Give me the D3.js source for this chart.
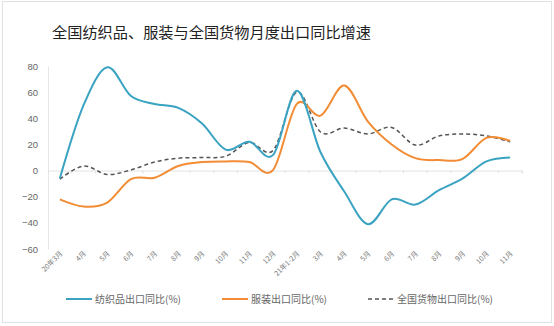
<!DOCTYPE html>
<html><head><meta charset="utf-8">
<script src="https://cdn.jsdelivr.net/npm/d3@7"></script>
<style>body{margin:0;background:#fff;}svg{display:block;font-family:"Noto Sans CJK SC","Noto Sans",sans-serif;}</style>
</head><body>
<svg id="c" width="554" height="326"></svg>
<script>
const title = "全国纺织品、服装与全国货物月度出口同比增速";
const categories = ["20年3月","4月","5月","6月","7月","8月","9月","10月","11月","12月","21年1-2月","3月","4月","5月","6月","7月","8月","9月","10月","11月"];
const textile = [-6,50,79,57,51,48,36,16,22,12,61,14,-16,-41,-22,-26,-15,-6,7,10];
const apparel = [-22,-27.5,-24.5,-6.5,-5.5,3.5,6.5,7,6.5,0.5,51,42,65,37.5,20,9.5,8,9,25,22.7];
const total = [-6.5,3.5,-3,0.5,6.5,9.5,10,11,21.5,15.5,60,29.5,32.5,28,33,19.5,26.5,28,26.5,22];
const yTicks = [80,60,40,20,0,-20,-40,-60];
const seriesNames = ["纺织品出口同比(%)","服装出口同比(%)","全国货物出口同比(%)"];

const svg = d3.select("#c");
svg.append("rect").attr("x",2.5).attr("y",1.5).attr("width",549).attr("height",321)
  .attr("fill","#fff").attr("stroke","#e2e2e2");
svg.append("text").attr("x",52).attr("y",38).attr("font-size",15.2).attr("fill","#222").text(title);

const x = d3.scaleBand().domain(categories.map((d,i)=>i)).range([48,522]);
const y = d3.scaleLinear().domain([-60,80]).range([249,66]);

// y axis
const ya = svg.append("g").attr("transform","translate(48,0)")
  .call(d3.axisLeft(y).tickValues(yTicks).tickSize(0).tickPadding(10));
ya.select(".domain").attr("stroke","#e6e6e6");
ya.selectAll("text").attr("fill","#666").attr("font-size",9.5).attr("font-family","Liberation Sans, Arial, sans-serif");

// zero line with ticks
const xa = svg.append("g").attr("transform",`translate(0,${y(0)})`)
  .call(d3.axisBottom(x).tickSize(3).tickFormat(""));
xa.select(".domain").attr("stroke","#e2e2e2");
xa.selectAll(".tick line").attr("stroke","#e2e2e2").attr("transform",`translate(${x.bandwidth()/2},0)`);

// x labels
svg.append("g").selectAll("text").data(categories).join("text")
  .attr("transform",(d,i)=>`translate(${x(i)+x.bandwidth()/2+3},254) rotate(-45)`)
  .attr("text-anchor","end").attr("font-size",7).attr("fill","#777").text(d=>d);

const line = d3.line().x((d,i)=>x(i)+x.bandwidth()/2).y(d=>y(d)).curve(d3.curveCardinal.tension(0));
svg.append("path").datum(total).attr("d",line).attr("fill","none").attr("stroke","#555").attr("stroke-width",1.5).attr("stroke-dasharray","4,3");
svg.append("path").datum(apparel).attr("d",line).attr("fill","none").attr("stroke","#F28C35").attr("stroke-width",2);
svg.append("path").datum(textile).attr("d",line).attr("fill","none").attr("stroke","#3AA3C1").attr("stroke-width",2);

// legend
const leg = [{n:seriesNames[0],c:"#3AA3C1",x:66,dash:null,w:2},{n:seriesNames[1],c:"#F28C35",x:222,dash:null,w:2},{n:seriesNames[2],c:"#555",x:368,dash:"4,3",w:1.5}];
const lg = svg.append("g").selectAll("g").data(leg).join("g").attr("transform",d=>`translate(${d.x},299)`);
lg.append("line").attr("x1",0).attr("x2",26).attr("stroke",d=>d.c).attr("stroke-width",d=>d.w).attr("stroke-dasharray",d=>d.dash);
lg.append("text").attr("x",29).attr("y",3.5).attr("font-size",10).attr("fill","#666").text(d=>d.n);
</script>
</body></html>
